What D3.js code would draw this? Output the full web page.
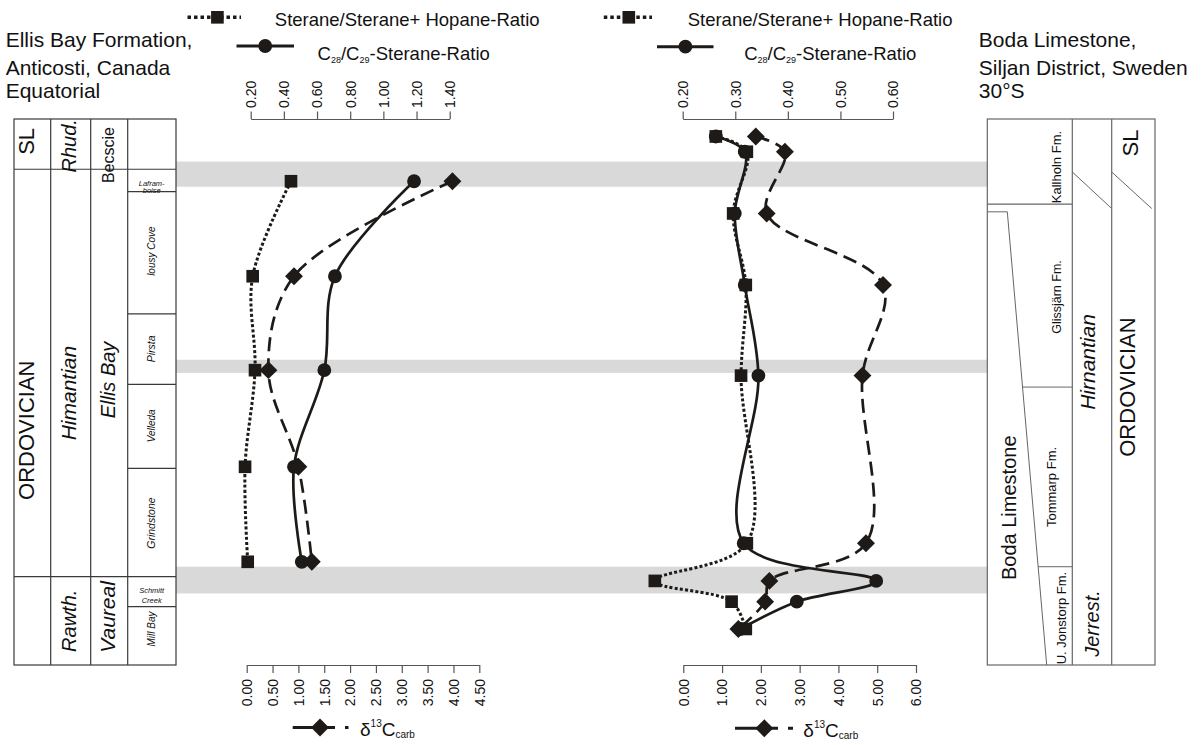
<!DOCTYPE html>
<html>
<head>
<meta charset="utf-8">
<script src="https://cdn.jsdelivr.net/npm/d3@7"></script>
<style>
  body { margin: 0; background: #fff; }
  svg { display: block; font-family: Arial, "Liberation Sans", sans-serif; }
</style>
</head>
<body>
<div id="chart"></div>
<script>
// sample levels: relative height in the section, 0 = base, 100 = top
const anticostiLevels = [88.6, 71.2, 54.0, 36.3, 18.9];
const anticostiSterHop = [0.443, 0.212, 0.226, 0.166, 0.182];
const anticostiC28C29 = [1.185, 0.708, 0.644, 0.461, 0.508];
const anticostiD13C = [3.98, 0.915, 0.42, 1.0, 1.26];

const bodaLevels = [96.8, 94.0, 82.7, 69.6, 53.0, 22.3, 15.4, 11.6, 6.6];
const bodaSterHop = [0.263, 0.322, 0.296, 0.320, 0.311, 0.322, 0.147, 0.293, 0.320];
const bodaC28C29 = [0.263, 0.318, 0.299, 0.318, 0.344, 0.316, 0.568, 0.417, 0.310];
const bodaD13C = [1.87, 2.62, 2.15, 5.15, 4.62, 4.71, 2.22, 2.11, 1.42];

const leftRatioTicks = [0.2, 0.4, 0.6, 0.8, 1.0, 1.2, 1.4];
const leftD13Ticks = [0, 0.5, 1, 1.5, 2, 2.5, 3, 3.5, 4, 4.5];
const rightRatioTicks = [0.2, 0.3, 0.4, 0.5, 0.6];
const rightD13Ticks = [0, 1, 2, 3, 4, 5, 6];

// grey correlation bands [bottom, top]
const bands = [[87.6, 92.2], [53.5, 55.9], [13.1, 18.0]];

// Anticosti column: full-width boundaries and formation boundaries
const anticostiMajor = [90.8, 16.2];
const anticostiFormations = [86.7, 64.3, 51.4, 36.0, 10.7];
const anticostiLabels = [
  { t: "SL", col: 0, h: 95.9, size: 22 },
  { t: "ORDOVICIAN", col: 0, h: 43.0, size: 22 },
  { t: "Rhud.", col: 1, h: 95.1, size: 20, it: true },
  { t: "Himantian", col: 1, h: 49.8, size: 21, it: true },
  { t: "Rawth.", col: 1, h: 8.1, size: 20, it: true },
  { t: "Becscie", col: 2, h: 93.4, size: 16 },
  { t: "Ellis Bay", col: 2, h: 52.2, size: 20, it: true },
  { t: "Vaureal", col: 2, h: 8.8, size: 21, it: true },
  { t: "lousy Cove", col: 3, h: 75.8, size: 10, it: true },
  { t: "Pirsta", col: 3, h: 57.9, size: 10.5, it: true },
  { t: "Velleda", col: 3, h: 43.8, size: 10, it: true },
  { t: "Grindstone", col: 3, h: 26.0, size: 10.5, it: true },
  { t: "Mill Bay", col: 3, h: 6.6, size: 10, it: true }
];
const anticostiSmall = [["Lafram-", 88.3], ["boise", 86.9], ["Schmitt", 13.7], ["Creek", 11.9]];

// Boda column
const bodaLabels = [
  { t: "Kallholn Fm.", col: 0, h: 91.2, size: 13, dx: 1056.7 },
  { t: "Glissjärn Fm.", col: 0, h: 67.4, size: 12.5, dx: 1056.7 },
  { t: "Tommarp Fm.", col: 0, h: 32.6, size: 13, dx: 1051.7 },
  { t: "U. Jonstorp Fm.", col: 0, h: 8.6, size: 13, dx: 1061.7 },
  { t: "Boda  Limestone", col: 0, h: 28.8, size: 20, dx: 1009 },
  { t: "Hirnantian", col: 1, h: 55.5, size: 21, it: true, dx: 1088 },
  { t: "Jerrest.", col: 1, h: 7.6, size: 20, it: true, dx: 1092 },
  { t: "ORDOVICIAN", col: 2, h: 50.9, size: 22, dx: 1127 },
  { t: "SL", col: 2, h: 95.6, size: 22, dx: 1130 }
];

const ink = "#1d1a17";
const lineGrey = "#555";

const svg = d3.select("#chart").append("svg")
  .attr("width", 1203)
  .attr("height", 745);

const y = d3.scaleLinear().domain([0, 100]).range([665, 119]);

const xRatioL = d3.scaleLinear().domain([0.2, 1.4]).range([250.7, 449.7]);
const xD13L = d3.scaleLinear().domain([0, 4.5]).range([246.7, 479.3]);
const xRatioR = d3.scaleLinear().domain([0.2, 0.6]).range([682.7, 893]);
const xD13R = d3.scaleLinear().domain([0, 6]).range([683.3, 916]);

// bands
svg.append("g").selectAll("rect").data(bands).join("rect")
  .attr("x", 176)
  .attr("width", 987.3 - 176)
  .attr("y", d => y(d[1]))
  .attr("height", d => y(d[0]) - y(d[1]))
  .attr("fill", "#d9d9d9");

// ---- left stratigraphic column
const lc = [14, 50.7, 90.7, 127.7, 176];
const lg = svg.append("g").attr("stroke", "#3a3a3a").attr("stroke-width", 1.2);
lg.append("rect").attr("x", lc[0]).attr("y", y(100)).attr("width", lc[4] - lc[0])
  .attr("height", y(0) - y(100)).attr("fill", "none");
lc.slice(1, 4).forEach(x => lg.append("line").attr("x1", x).attr("x2", x).attr("y1", y(100)).attr("y2", y(0)));
anticostiMajor.forEach(h => lg.append("line").attr("x1", lc[0]).attr("x2", lc[4]).attr("y1", y(h)).attr("y2", y(h)));
anticostiFormations.forEach(h => lg.append("line").attr("x1", lc[3]).attr("x2", lc[4]).attr("y1", y(h)).attr("y2", y(h)));

const labelX = [26, 69, 108, 151.7];
anticostiLabels.forEach(d => {
  svg.append("text")
    .attr("transform", `translate(${labelX[d.col]},${y(d.h)}) rotate(-90)`)
    .attr("text-anchor", "middle")
    .attr("dy", "0.35em")
    .attr("font-size", d.size)
    .attr("font-style", d.it ? "italic" : null)
    .attr("fill", "#111")
    .text(d.t);
});
anticostiSmall.forEach(d => {
  svg.append("text")
    .attr("x", 151.7).attr("y", y(d[1]))
    .attr("text-anchor", "middle").attr("dy", "0.35em")
    .attr("font-size", 7.5).attr("font-style", "italic")
    .attr("fill", "#111")
    .text(d[0]);
});

// ---- right stratigraphic column
const rc = [987.3, 1072.3, 1111.7, 1155];
const rg = svg.append("g").attr("stroke", "#666").attr("stroke-width", 1.2).attr("fill", "none");
rg.append("rect").attr("x", rc[0]).attr("y", y(100)).attr("width", rc[3] - rc[0])
  .attr("height", y(0) - y(100));
rc.slice(1, 3).forEach(x => rg.append("line").attr("x1", x).attr("x2", x).attr("y1", y(100)).attr("y2", y(0)));
// Kallholn base
rg.append("line").attr("x1", rc[0]).attr("x2", rc[1]).attr("y1", y(84.4)).attr("y2", y(84.4));
// Boda wedge
const slant = d3.scaleLinear().domain([83.0, 0]).range([1007.3, 1046.7]);
rg.append("path").attr("stroke-width", 1)
  .attr("d", `M${rc[0]},${y(83.0)} H${slant(83.0)} L${slant(0)},${y(0)}`);
[50.9, 18.0].forEach(h => rg.append("line").attr("stroke-width", 1)
  .attr("x1", slant(h)).attr("x2", rc[1]).attr("y1", y(h)).attr("y2", y(h)));
// diachronous boundary
[[rc[1], 1111.7], [1111.7, 1151.7]].forEach(([a, b]) =>
  rg.append("line").attr("stroke-width", 1)
    .attr("x1", a).attr("y1", y(90.3)).attr("x2", b).attr("y2", y(83.6)));

bodaLabels.forEach(d => {
  svg.append("text")
    .attr("transform", `translate(${d.dx},${y(d.h)}) rotate(-90)`)
    .attr("text-anchor", "middle")
    .attr("dy", "0.35em")
    .attr("font-size", d.size)
    .attr("font-style", d.it ? "italic" : null)
    .attr("fill", "#111")
    .text(d.t);
});

// ---- axes
function topAxis(scale, ticks) {
  const g = svg.append("g").attr("transform", `translate(0,${y(100)})`)
    .call(d3.axisTop(scale).tickValues(ticks).tickFormat(d3.format(".2f"))
      .tickSize(7.5).tickSizeOuter(0));
  g.select(".domain").attr("stroke", lineGrey).attr("stroke-width", 1.2);
  g.selectAll(".tick line").attr("stroke", lineGrey).attr("stroke-width", 1.2);
  g.selectAll(".tick text")
    .attr("transform", "rotate(-90)")
    .attr("x", 11).attr("y", 0).attr("dy", "0.35em")
    .attr("text-anchor", "start")
    .attr("font-size", 14).attr("font-family", null).attr("fill", "#111");
}
function bottomAxis(scale, ticks) {
  const g = svg.append("g").attr("transform", `translate(0,${y(0)})`)
    .call(d3.axisBottom(scale).tickValues(ticks).tickFormat(d3.format(".2f"))
      .tickSize(8).tickSizeOuter(0));
  g.select(".domain").attr("stroke", lineGrey).attr("stroke-width", 1.2);
  g.selectAll(".tick line").attr("stroke", lineGrey).attr("stroke-width", 1.2);
  g.selectAll(".tick text")
    .attr("transform", "rotate(-90)")
    .attr("x", -14).attr("y", 0).attr("dy", "0.35em")
    .attr("text-anchor", "end")
    .attr("font-size", 14).attr("font-family", null).attr("fill", "#111");
}
topAxis(xRatioL, leftRatioTicks);
bottomAxis(xD13L, leftD13Ticks);
topAxis(xRatioR, rightRatioTicks);
bottomAxis(xD13R, rightD13Ticks);

// ---- series
const sqStyle = { type: d3.symbolSquare, size: 160, rot: 0, dash: "3,2.2", w: 3 };
const ciStyle = { type: d3.symbolCircle, size: 150, rot: 0, dash: null, w: 2.7 };
const diStyle = { type: d3.symbolSquare, size: 160, rot: 45, dash: "14,7", w: 2.7 };

const curve = d3.line().curve(d3.curveCatmullRom.alpha(0.5));

function drawSeries(levels, values, xs, st) {
  const pts = levels.map((h, i) => [xs(values[i]), y(h)]);
  svg.append("path").datum(pts)
    .attr("fill", "none").attr("stroke", ink)
    .attr("stroke-width", st.w)
    .attr("stroke-dasharray", st.dash)
    .attr("d", curve);
  svg.append("g").selectAll("path").data(pts).join("path")
    .attr("transform", d => `translate(${d[0]},${d[1]}) rotate(${st.rot})`)
    .attr("d", d3.symbol().type(st.type).size(st.size))
    .attr("fill", ink);
}

drawSeries(anticostiLevels, anticostiC28C29, xRatioL, ciStyle);
drawSeries(anticostiLevels, anticostiSterHop, xRatioL, sqStyle);
drawSeries(anticostiLevels, anticostiD13C, xD13L, diStyle);

drawSeries(bodaLevels, bodaC28C29, xRatioR, ciStyle);
drawSeries(bodaLevels, bodaSterHop, xRatioR, sqStyle);
drawSeries(bodaLevels, bodaD13C, xD13R, diStyle);

// ---- legends
function legendKey(x1, x2, cy, cx, st, dash, w) {
  svg.append("line").attr("x1", x1).attr("x2", x2).attr("y1", cy).attr("y2", cy)
    .attr("stroke", ink).attr("stroke-width", w).attr("stroke-dasharray", dash);
  svg.append("path")
    .attr("transform", `translate(${cx},${cy}) rotate(${st.rot})`)
    .attr("d", d3.symbol().type(st.type).size(st.size))
    .attr("fill", ink);
}
function sterHopText(x, yb) {
  svg.append("text").attr("x", x).attr("y", yb).attr("font-size", 18.5).attr("fill", "#111")
    .text("Sterane/Sterane+ Hopane-Ratio");
}
function c28Text(x, yb) {
  const t = svg.append("text").attr("x", x).attr("y", yb).attr("font-size", 18.5).attr("fill", "#111");
  t.append("tspan").text("C");
  t.append("tspan").attr("font-size", 9).attr("dy", 3).text("28");
  t.append("tspan").attr("dy", -3).text("/C");
  t.append("tspan").attr("font-size", 9).attr("dy", 3).text("29");
  t.append("tspan").attr("dy", -3).text("-Sterane-Ratio");
}
function d13Text(x, yb) {
  const t = svg.append("text").attr("x", x).attr("y", yb).attr("font-size", 19).attr("fill", "#111");
  t.append("tspan").text("δ");
  t.append("tspan").attr("font-size", 10).attr("dy", -9).text("13");
  t.append("tspan").attr("dy", 9).text("C");
  t.append("tspan").attr("font-size", 10).attr("dy", 2).text("carb");
}

legendKey(187.5, 241, 17.3, 217.4, sqStyle, "3.5,3", 3.5);
sterHopText(274.8, 26);
legendKey(236.5, 294, 46, 265.2, ciStyle, null, 3);
c28Text(317.6, 60);

legendKey(603.8, 652, 17.3, 628.8, sqStyle, "3.5,3", 3.5);
sterHopText(687.7, 26);
legendKey(657, 713.5, 46.7, 685.4, ciStyle, null, 3);
c28Text(744.2, 60);

legendKey(292.7, 348.5, 727.5, 320, diStyle, "42.3,10,4", 3);
d13Text(360, 736);
legendKey(735, 793, 728.3, 764.3, diStyle, "43,10,5", 3);
d13Text(803.3, 737);

// ---- titles
function title(x, lines) {
  lines.forEach((s, i) => svg.append("text")
    .attr("x", x).attr("y", [46.7, 75, 97.5][i])
    .attr("font-size", 21).attr("fill", "#111").text(s));
}
title(5.7, ["Ellis Bay Formation,", "Anticosti, Canada", "Equatorial"]);
title(978.8, ["Boda Limestone,", "Siljan District, Sweden", "30°S"]);
</script>
</body>
</html>
